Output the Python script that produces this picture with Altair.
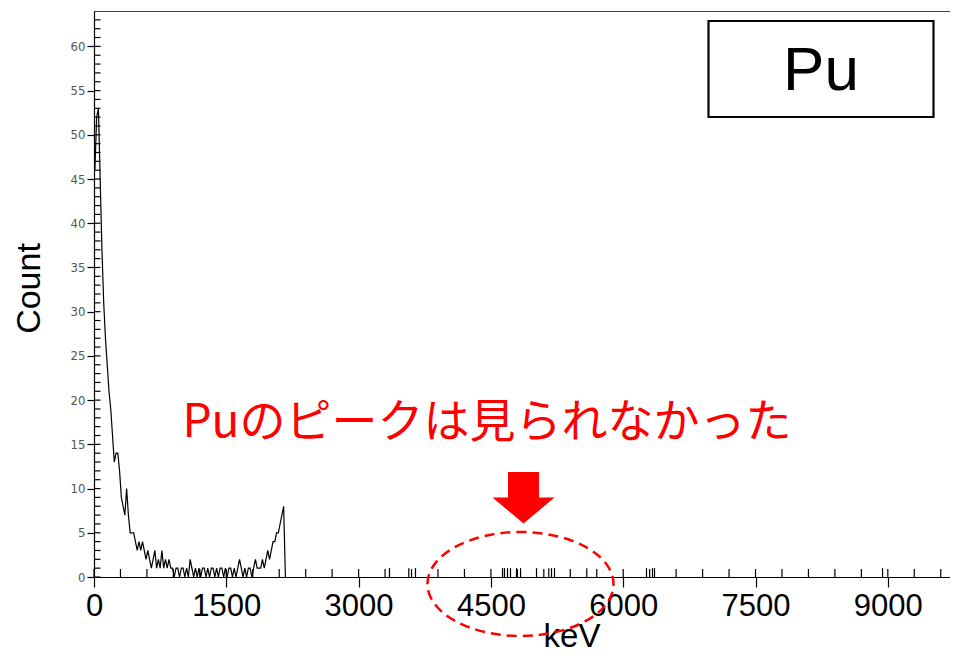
import altair as alt
import pandas as pd

# ---------------- data ----------------
# spectrum counts in 20 keV bins (bin centres 10, 30, 50, ... keV)
counts = [46, 52, 53, 45, 37, 31, 27, 24, 21, 19,
          16, 13, 14, 14, 12, 9, 8, 7, 10, 7,
          5, 5, 5, 4, 3, 4, 3, 4, 3, 2,
          3, 2, 1, 2, 3, 1, 2, 1, 3, 1,
          2, 1, 2, 1, 1, 0, 1, 1, 0, 1,
          1, 0, 1, 0, 2, 1, 0, 1, 0, 1,
          0, 1, 1, 0, 1, 0, 1, 1, 0, 1,
          0, 1, 1, 0, 1, 0, 1, 1, 0, 1,
          0, 1, 2, 1, 0, 1, 0, 1, 1, 0,
          1, 2, 1, 1, 1, 2, 1, 2, 3, 2,
          3, 4, 4, 5, 5, 6, 7, 8, 0]
bin_centres = [10 + 20 * i for i in range(len(counts))]

# isolated single-count events above the spectrum end (keV)
event_energy = [3350, 3569, 3645, 4632, 4654, 4688, 4722, 4790, 4836,
                5017, 5156, 5187, 5221, 5587, 6264, 6332, 6355, 8940]

x_major = [0, 1500, 3000, 4500, 6000, 7500, 9000]
x_minor = list(range(0, 9601, 300))
y_major = list(range(0, 61, 5))
y_minor = list(range(0, 64))

box_label = ["Pu"]
note_label = ["Puのピークは見られなかった"]

spec = pd.DataFrame({"E": bin_centres, "C": counts})
events = pd.DataFrame({"E": event_energy,
                       "C": [0] * len(event_energy),
                       "C2": [1] * len(event_energy)})
xminor_df = pd.DataFrame({"E": x_minor})
yminor_df = pd.DataFrame({"C": y_minor})

W, H = 856, 566
xscale = alt.Scale(domain=[0, 9705], nice=False, zero=False)
yscale = alt.Scale(domain=[0, 64], nice=False)

x_axis = alt.Axis(values=x_major, format="d", title="keV", grid=False,
                  domainColor="black", domainWidth=1.2,
                  tickColor="black", tickSize=10, tickWidth=1.2,
                  labelFont="Liberation Sans", labelFontSize=31,
                  labelColor="black", labelPadding=4,
                  labelFlush=False, labelOverlap=False,
                  titleFont="Liberation Sans", titleFontSize=33,
                  titleFontWeight="normal", titleColor="black",
                  titleX=477.5, titleY=69, titleBaseline="alphabetic",
                  titleAlign="center")
y_axis = alt.Axis(values=y_major, format="d", title="Count", grid=False,
                  domainColor="black", domainWidth=1.2,
                  tickColor="black", tickSize=7, tickWidth=1.2,
                  labelFont="DejaVu Sans Condensed, Liberation Sans Narrow, sans-serif",
                  labelFontSize=13, labelColor="#555555", labelPadding=2,
                  labelFlush=False,
                  titleFont="Liberation Sans", titleFontSize=34,
                  titleFontWeight="normal", titleColor="black",
                  titleX=-54.5, titleY=277, titleBaseline="alphabetic",
                  titleAlign="center", titleAngle=270)

X = alt.X("E:Q", scale=xscale, axis=x_axis)
Y = alt.Y("C:Q", scale=yscale, axis=y_axis)

line = alt.Chart(spec).mark_line(color="black", strokeWidth=1.2).encode(
    x=X, y=Y,
)

spikes = alt.Chart(events).mark_rule(color="black", strokeWidth=1.2).encode(
    x=X, y=Y, y2="C2:Q",
)

xticks = alt.Chart(xminor_df).mark_rule(color="black", strokeWidth=1.2).encode(
    x=X, y=alt.value(H), y2=alt.value(H - 8),
)

yticks = alt.Chart(yminor_df).mark_rule(color="black", strokeWidth=1.2).encode(
    y=Y, x=alt.value(0), x2=alt.value(6.5),
)

box = alt.Chart(pd.DataFrame({"t": box_label})).mark_rect(
    fill="white", stroke="black", strokeWidth=2.2
).encode(x=alt.value(614.5), x2=alt.value(839.5),
         y=alt.value(10), y2=alt.value(106))

box_text = alt.Chart(pd.DataFrame({"t": box_label})).mark_text(
    font="Liberation Sans", fontSize=62, color="black",
    align="center", baseline="middle"
).encode(text="t:N", x=alt.value(727), y=alt.value(60))

note = alt.Chart(pd.DataFrame({"t": note_label})).mark_text(
    font="Noto Sans CJK JP", fontSize=46, color="#ff0000",
    align="center", baseline="middle"
).encode(text="t:N", x=alt.value(393), y=alt.value(412))

arrow_path = "M -0.5 -0.82 L 0.5 -0.82 L 0.5 0 L 1 0 L 0 0.84 L -1 0 L -0.5 0 Z"
arrow = alt.Chart(pd.DataFrame({"t": ["arrow"]})).mark_point(
    shape=arrow_path, size=3844, filled=True, color="#ff0000",
    opacity=1, strokeWidth=0
).encode(x=alt.value(429.5), y=alt.value(486.5))

ellipse_path = ("M -1 0 C -1 -0.309 -0.552 -0.559 0 -0.559 "
                "C 0.552 -0.559 1 -0.309 1 0 "
                "C 1 0.309 0.552 0.559 0 0.559 "
                "C -0.552 0.559 -1 0.309 -1 0 Z")
ellipse = alt.Chart(pd.DataFrame({"t": ["ellipse"]})).mark_point(
    shape=ellipse_path, size=34596, filled=False, stroke="#ff0000",
    strokeWidth=2.5, strokeDash=[10, 6], opacity=1
).encode(x=alt.value(426.5), y=alt.value(573))

chart = alt.layer(
    line, spikes, xticks, yticks, box, box_text, note, arrow, ellipse
).properties(
    width=W, height=H,
    autosize=alt.AutoSizeParams(type="none"),
    padding={"left": 86, "top": 3, "right": 0, "bottom": 78},
    background="white",
).configure_view(stroke="#444444", strokeWidth=1)

chart.save("out.html", embed_options={"renderer": "svg", "actions": False})
